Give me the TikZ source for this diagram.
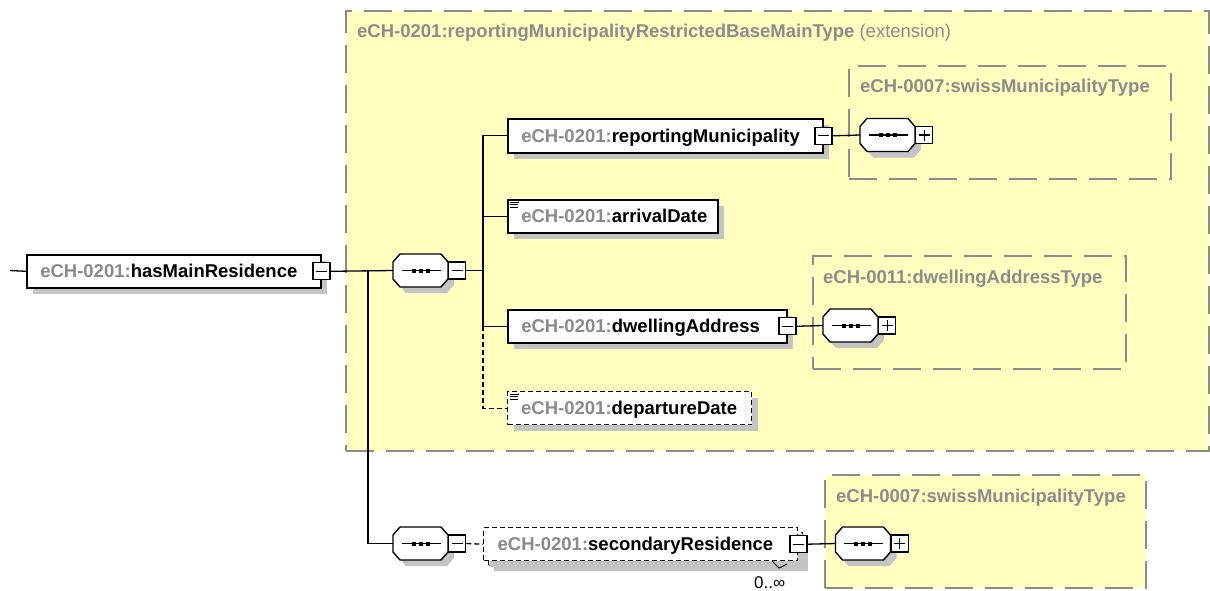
\documentclass[tikz,border=0pt]{standalone}
\usepackage{fontspec}
\setmainfont{Liberation Sans}
\usetikzlibrary{shadows}
\definecolor{yel}{HTML}{FFFFC0}
\definecolor{pre}{HTML}{8A8A8A}
\definecolor{shd}{HTML}{C4C4C4}
\definecolor{bgray}{HTML}{8C8C8C}
\newcommand{\pfx}[1]{\textcolor{pre}{#1}}
\begin{document}
\begin{tikzpicture}[x=1pt,y=-1pt,
  font=\fontsize{18.5}{21}\selectfont\bfseries,
  conn/.style={draw=black, line width=1.3pt},
  dconn/.style={draw=black, line width=1.3pt, dash pattern=on 5pt off 3pt},
  elem/.style={draw=black, line width=1.6pt, fill=white, anchor=north west,
    inner xsep=13.5pt, inner ysep=0pt, text height=15pt, text depth=2.5pt, align=left,
    drop shadow={shadow xshift=6pt, shadow yshift=-6pt, fill=shd, opacity=1}},
  delem/.style={elem, dash pattern=on 5pt off 3pt, line width=1.4pt},
  typebox/.style={draw=bgray, line width=1.6pt, dash pattern=on 28pt off 12pt,
    anchor=north west, inner sep=0pt},
  ttitle/.style={anchor=base west, text=bgray, inner sep=0pt},
  tog/.style={draw=black, line width=1.3pt, fill=white, minimum size=17pt, inner sep=0pt, rectangle},
  minus/.style={tog, path picture={\draw[line width=1.1pt] ([xshift=-5.5pt]path picture bounding box.center) -- ([xshift=5.5pt]path picture bounding box.center);}},
  plus/.style={tog, path picture={\draw[line width=1.1pt] ([xshift=-5.5pt]path picture bounding box.center) -- ([xshift=5.5pt]path picture bounding box.center) ([yshift=-5.5pt]path picture bounding box.center) -- ([yshift=5.5pt]path picture bounding box.center);}},
  seqpic/.pic={
    \fill[shd, shift={(6,6)}] (-20.5,-16.5) -- (20.5,-16.5) -- (27.5,-8.5) -- (27.5,8.5) -- (20.5,16.5) -- (-20.5,16.5) -- (-27.5,8.5) -- (-27.5,-8.5) -- cycle;
    \filldraw[fill=white, draw=black, line width=1.4pt] (-20.5,-16.5) -- (20.5,-16.5) -- (27.5,-8.5) -- (27.5,8.5) -- (20.5,16.5) -- (-20.5,16.5) -- (-27.5,8.5) -- (-27.5,-8.5) -- cycle;
    \draw[line width=1.2pt] (-19,0) -- (20,0);
    \foreach \dx in {-7,0,7} {\fill (\dx-2,-2) rectangle (\dx+2,2);}
    \node[coordinate] (-w) at (-27.5,0) {};
    \node[coordinate] (-e) at (27.5,0) {};
  },
  simp/.style={line width=0.9pt}
]
\useasboundingbox (0,0) rectangle (1210,590);
\fill[white] (0,0) rectangle (1210,590);

% main extension box
\node[typebox, fill=yel, minimum width=863pt, minimum height=440pt] (main) at (345,10) {};
\node[ttitle] (maint) at (357,37.5) {eCH-0201:reportingMunicipalityRestrictedBaseMainType \mdseries(extension)};

% type boxes
\node[typebox, minimum width=322pt, minimum height=113pt] (t1) at (848,65) {};
\node[ttitle] (t1t) at (860,92) {eCH-0007:swissMunicipalityType};
\node[typebox, minimum width=313pt, minimum height=113pt] (t2) at (812,255) {};
\node[ttitle] (t2t) at (823,283) {eCH-0011:dwellingAddressType};
\node[typebox, fill=yel, minimum width=321pt, minimum height=113pt] (t3) at (824,474) {};
\node[ttitle] (t3t) at (836,502) {eCH-0007:swissMunicipalityType};

% root element
\coordinate (in) at (10,270.5);
\node[elem, text width=267pt, minimum height=33pt] (hmr) at (26,254) {\mbox{\pfx{eCH-0201:}hasMainResidence}};
\node[minus] (hmrm) at (hmr.east) {};
\draw[conn] (in) -- (hmr.west);

% sequence 1
\pic (s1) at (420.5,270.5) {seqpic};
\node[minus, anchor=west] (s1m) at (s1-e) {};
\draw[conn] (hmrm.east) -- (s1-w);

% sequence 2
\pic (s2) at (420.5,543.5) {seqpic};
\node[minus, anchor=west] (s2m) at (s2-e) {};
\coordinate (j1) at (368,270.5);
\draw[conn] (j1) |- (s2-w);

% children of sequence 1
\node[elem, text width=288pt, minimum height=34pt] (rm) at (507,118) {\mbox{\pfx{eCH-0201:}reportingMunicipality}};
\node[minus] (rmm) at (rm.east) {};
\node[elem, text width=183pt, minimum height=33pt] (ad) at (507,199) {\mbox{\pfx{eCH-0201:}arrivalDate}};
\node[elem, text width=252pt, minimum height=33pt] (dw) at (507,309) {\mbox{\pfx{eCH-0201:}dwellingAddress}};
\node[minus] (dwm) at (dw.east) {};
\node[delem, text width=217pt, minimum height=33pt] (dd) at (507,391) {\mbox{\pfx{eCH-0201:}departureDate}};

% simple content icons
\draw[simp] ([shift={(3,3)}]ad.north west) -- +(9,0) ([shift={(3,5.5)}]ad.north west) -- +(8,0) ([shift={(3,8)}]ad.north west) -- +(8,0);
\draw[simp] ([shift={(3,3)}]dd.north west) -- +(9,0) ([shift={(3,5.5)}]dd.north west) -- +(8,0) ([shift={(3,8)}]dd.north west) -- +(8,0);

\coordinate (j2) at (483,270.5);
\draw[conn] (s1m.east) -- (j2);
\draw[conn] (rm.west) -| (j2) |- (dw.west);
\draw[conn] (ad.west) -- (ad.west -| j2);
\draw[dconn] (dw.west -| j2) |- (dd.west);

% type contents
\pic (r1) at (887.5,135) {seqpic};
\node[plus, anchor=west] (r1p) at (r1-e) {};
\draw[conn] (rmm.east) -- (r1-w);
\pic (d1) at (850.5,325.5) {seqpic};
\node[plus, anchor=west] (d1p) at (d1-e) {};
\draw[conn] (dwm.east) -- (d1-w);

% secondary residence (multiple)
\fill[shd] (494,538) rectangle (808,571);
\node[draw=black, line width=1.4pt, dash pattern=on 5pt off 3pt, fill=white, anchor=north west, minimum width=314pt, minimum height=33pt, inner sep=0pt] (srb) at (488,532) {};
\node[delem, drop shadow={opacity=0}, text width=286pt, inner xsep=14pt, minimum height=33pt] (sr) at (483,527) {\mbox{\pfx{eCH-0201:}secondaryResidence}};
\node[minus] (srm) at (sr.east) {};
\draw[dconn] (s2m.east) -- (sr.west);
\draw[line width=0.9pt] (772,561) -- (779,568) -- (787,564);
\node[anchor=base west, font=\fontsize{17}{20}\selectfont, inner sep=0pt] (occ) at (754,588) {0..∞};

\pic (q1) at (863,543.5) {seqpic};
\node[plus, anchor=west] (q1p) at (q1-e) {};
\draw[conn] (srm.east) -- (q1-w);
\end{tikzpicture}
\end{document}
